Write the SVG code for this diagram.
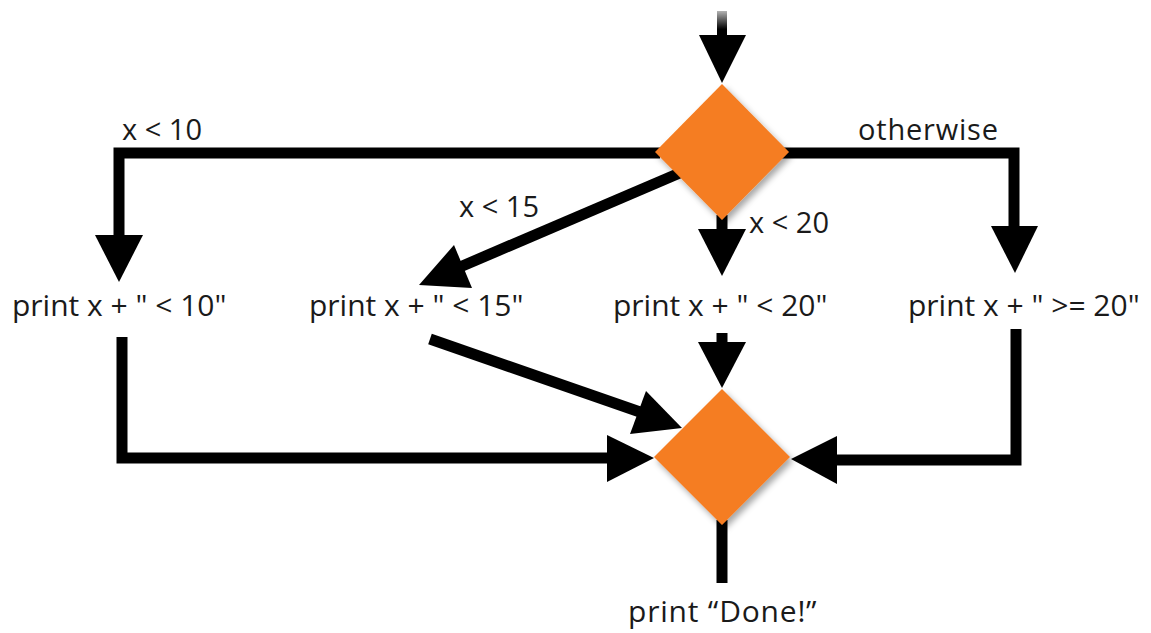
<svg xmlns="http://www.w3.org/2000/svg" width="1151" height="633" viewBox="0 0 1151 633">
  <style>
    .wire { fill: none; stroke: #000; stroke-width: 11; stroke-linejoin: miter; stroke-linecap: butt; }
    .head { fill: #000; }
    .decision { fill: #F57D22; filter: url(#shadow); }
    .stmt { font-family: "Open Sans", "DejaVu Sans", sans-serif; font-size: 30px; fill: #1a1a1a; }
    .cond { font-family: "Open Sans", "DejaVu Sans", sans-serif; font-size: 29px; fill: #1a1a1a; }
  </style>
  <defs>
    <filter id="shadow" x="-30%" y="-30%" width="160%" height="160%">
      <feDropShadow dx="3" dy="4" stdDeviation="3" flood-color="#000" flood-opacity="0.35"/>
    </filter>
    <linearGradient id="fade" x1="0" y1="0" x2="0" y2="1">
      <stop offset="0" stop-color="#000" stop-opacity="0.3"/>
      <stop offset="0.7" stop-color="#000" stop-opacity="1"/>
    </linearGradient>
  </defs>

  <rect width="1151" height="633" fill="#fff"/>

  <g id="connectors">
    <!-- entry into the first decision -->
    <rect x="717" y="11" width="10" height="26" fill="url(#fade)"/>
    <polygon class="head" points="699,35 746,35 722,83"/>

    <!-- x < 10 branch -->
    <polyline class="wire" points="660,153 119,153 119,237"/>
    <polygon class="head" points="95,235 143,235 119,282"/>

    <!-- otherwise branch -->
    <polyline class="wire" points="780,153 1014,153 1014,228"/>
    <polygon class="head" points="991,226 1038,226 1015,273"/>

    <!-- x < 20 branch -->
    <line class="wire" x1="722" y1="215" x2="722" y2="231"/>
    <polygon class="head" points="698,229 746,229 722,276"/>

    <!-- x < 15 branch -->
    <line class="wire" x1="682" y1="172" x2="460" y2="267"/>
    <polygon class="head" points="454,245 472,288 419,285"/>

    <!-- merge: < 10 -->
    <polyline class="wire" points="122,337 122,458 609,458"/>
    <polygon class="head" points="607,435 607,482 654,458"/>

    <!-- merge: < 15 -->
    <line class="wire" x1="430" y1="339" x2="640" y2="412"/>
    <polygon class="head" points="646,391 630,434 682,428"/>

    <!-- merge: < 20 -->
    <line class="wire" x1="722" y1="333" x2="722" y2="345"/>
    <polygon class="head" points="698,342 746,342 722,388"/>

    <!-- merge: >= 20 -->
    <polyline class="wire" points="1016,329 1016,460 835,460"/>
    <polygon class="head" points="837,436 837,484 791,459"/>

    <!-- exit from the merge -->
    <line class="wire" x1="722" y1="520" x2="722" y2="583"/>

    <!-- branch conditions -->
    <text class="cond" x="122" y="140">x &lt; 10</text>
    <text class="cond" x="459" y="217">x &lt; 15</text>
    <text class="cond" x="749" y="233">x &lt; 20</text>
    <text class="cond" x="858" y="140" letter-spacing="0.8">otherwise</text>
  </g>

  <g id="decision-top">
    <polygon class="decision" points="722,84 789,152 722,220 655,152"/>
  </g>

  <g id="print-lt10">
    <text class="stmt" x="12" y="316">print x + " &lt; 10"</text>
  </g>
  <g id="print-lt15">
    <text class="stmt" x="309" y="316">print x + " &lt; 15"</text>
  </g>
  <g id="print-lt20">
    <text class="stmt" x="613" y="316">print x + " &lt; 20"</text>
  </g>
  <g id="print-ge20">
    <text class="stmt" x="908" y="316">print x + " &gt;= 20"</text>
  </g>

  <g id="decision-merge">
    <polygon class="decision" points="722,389 790,457 722,525 654,457"/>
  </g>

  <g id="print-done">
    <text class="stmt" x="628" y="622" letter-spacing="0.8">print “Done!”</text>
  </g>
</svg>
